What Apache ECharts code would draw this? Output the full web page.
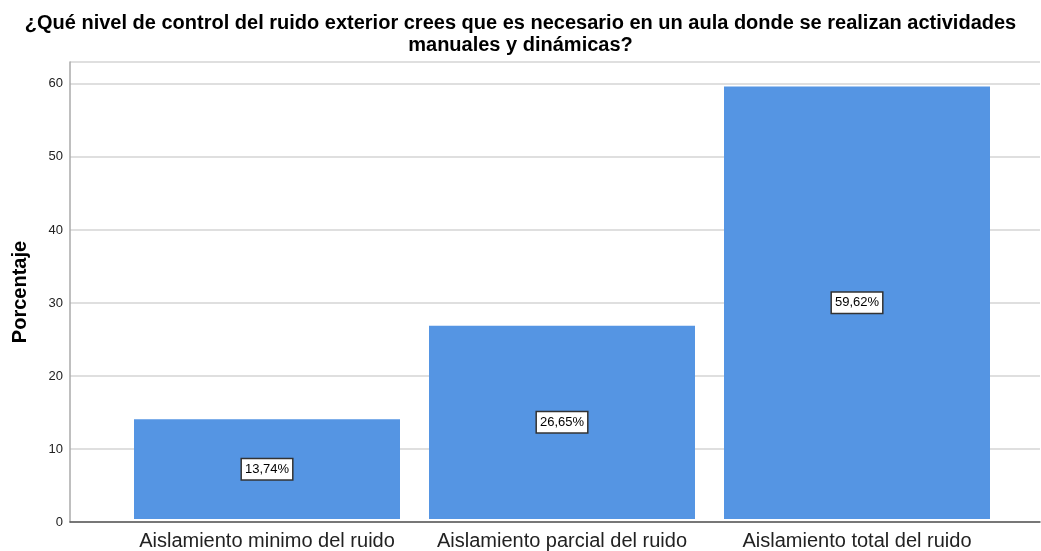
<!DOCTYPE html>
<html>
<head>
<meta charset="utf-8">
<script src="https://cdn.jsdelivr.net/npm/echarts@6/dist/echarts.min.js"></script>
<style>html,body{margin:0;padding:0;background:#fff}#c{width:1041px;height:551px}</style>
</head>
<body>
<div id="c"></div>
<script>
const titleText = "¿Qué nivel de control del ruido exterior crees que es necesario en un aula donde se realizan actividades\nmanuales y dinámicas?";
const categories = ["Aislamiento minimo del ruido", "Aislamiento parcial del ruido", "Aislamiento total del ruido"];
const percentages = [13.74, 26.65, 59.62];
const yTicks = [0, 10, 20, 30, 40, 50, 60];
const yAxisName = "Porcentaje";

const chart = echarts.init(document.getElementById('c'), null, {renderer: 'canvas'});
const font = "'Liberation Sans', Arial, sans-serif";
const yMin = 0, yMax = 63;
chart.setOption({
  animation: false,
  backgroundColor: '#ffffff',
  title: {
    text: titleText, left: 'center', top: 7,
    textStyle: {fontFamily: font, fontSize: 20, fontWeight: 'bold', color: '#000', lineHeight: 22}
  },
  grid: [
    {left: 70, right: 1, top: 62, bottom: 29, containLabel: false},
    {left: 119.5, right: 36.5, top: 62, bottom: 29, containLabel: false}
  ],
  xAxis: [
    {gridIndex: 0, type: 'category', data: categories, axisLine: {show: true, lineStyle: {color: '#555', width: 1.5}},
     axisTick: {show: false}, axisLabel: {show: false}, splitLine: {show: false}},
    {gridIndex: 1, type: 'category', data: categories, axisLine: {show: false}, axisTick: {show: false},
     axisLabel: {fontFamily: font, fontSize: 20, color: '#222', margin: 12, interval: 0, hideOverlap: false}}
  ],
  yAxis: [
    {gridIndex: 0, type: 'value', min: yMin, max: yMax, interval: 10,
     name: yAxisName, nameLocation: 'middle', nameGap: 40,
     nameTextStyle: {fontFamily: font, fontSize: 20, fontWeight: 'bold', color: '#000'},
     axisLine: {show: true, lineStyle: {color: '#aaa', width: 1.5}}, axisTick: {show: false},
     axisLabel: {fontFamily: font, fontSize: 13, color: '#222', margin: 7,
       formatter: v => yTicks.includes(v) ? String(v) : ''},
     splitLine: {show: true, lineStyle: {color: '#d4d4d4', width: 1.5}}},
    {gridIndex: 1, type: 'value', min: yMin, max: yMax, show: false, splitLine: {show: false}}
  ],
  series: [{
    type: 'bar', xAxisIndex: 1, yAxisIndex: 1,
    data: percentages, barWidth: 266,
    itemStyle: {color: '#5595e3'},
    label: {
      show: true, position: 'inside', formatter: p => p.value.toFixed(2).replace('.', ',') + '%',
      fontFamily: font, fontSize: 13, color: '#000', backgroundColor: '#fff',
      borderColor: '#333', borderWidth: 1.5, padding: [4, 3, 3, 3]
    }
  }]
});
</script>
</body>
</html>
